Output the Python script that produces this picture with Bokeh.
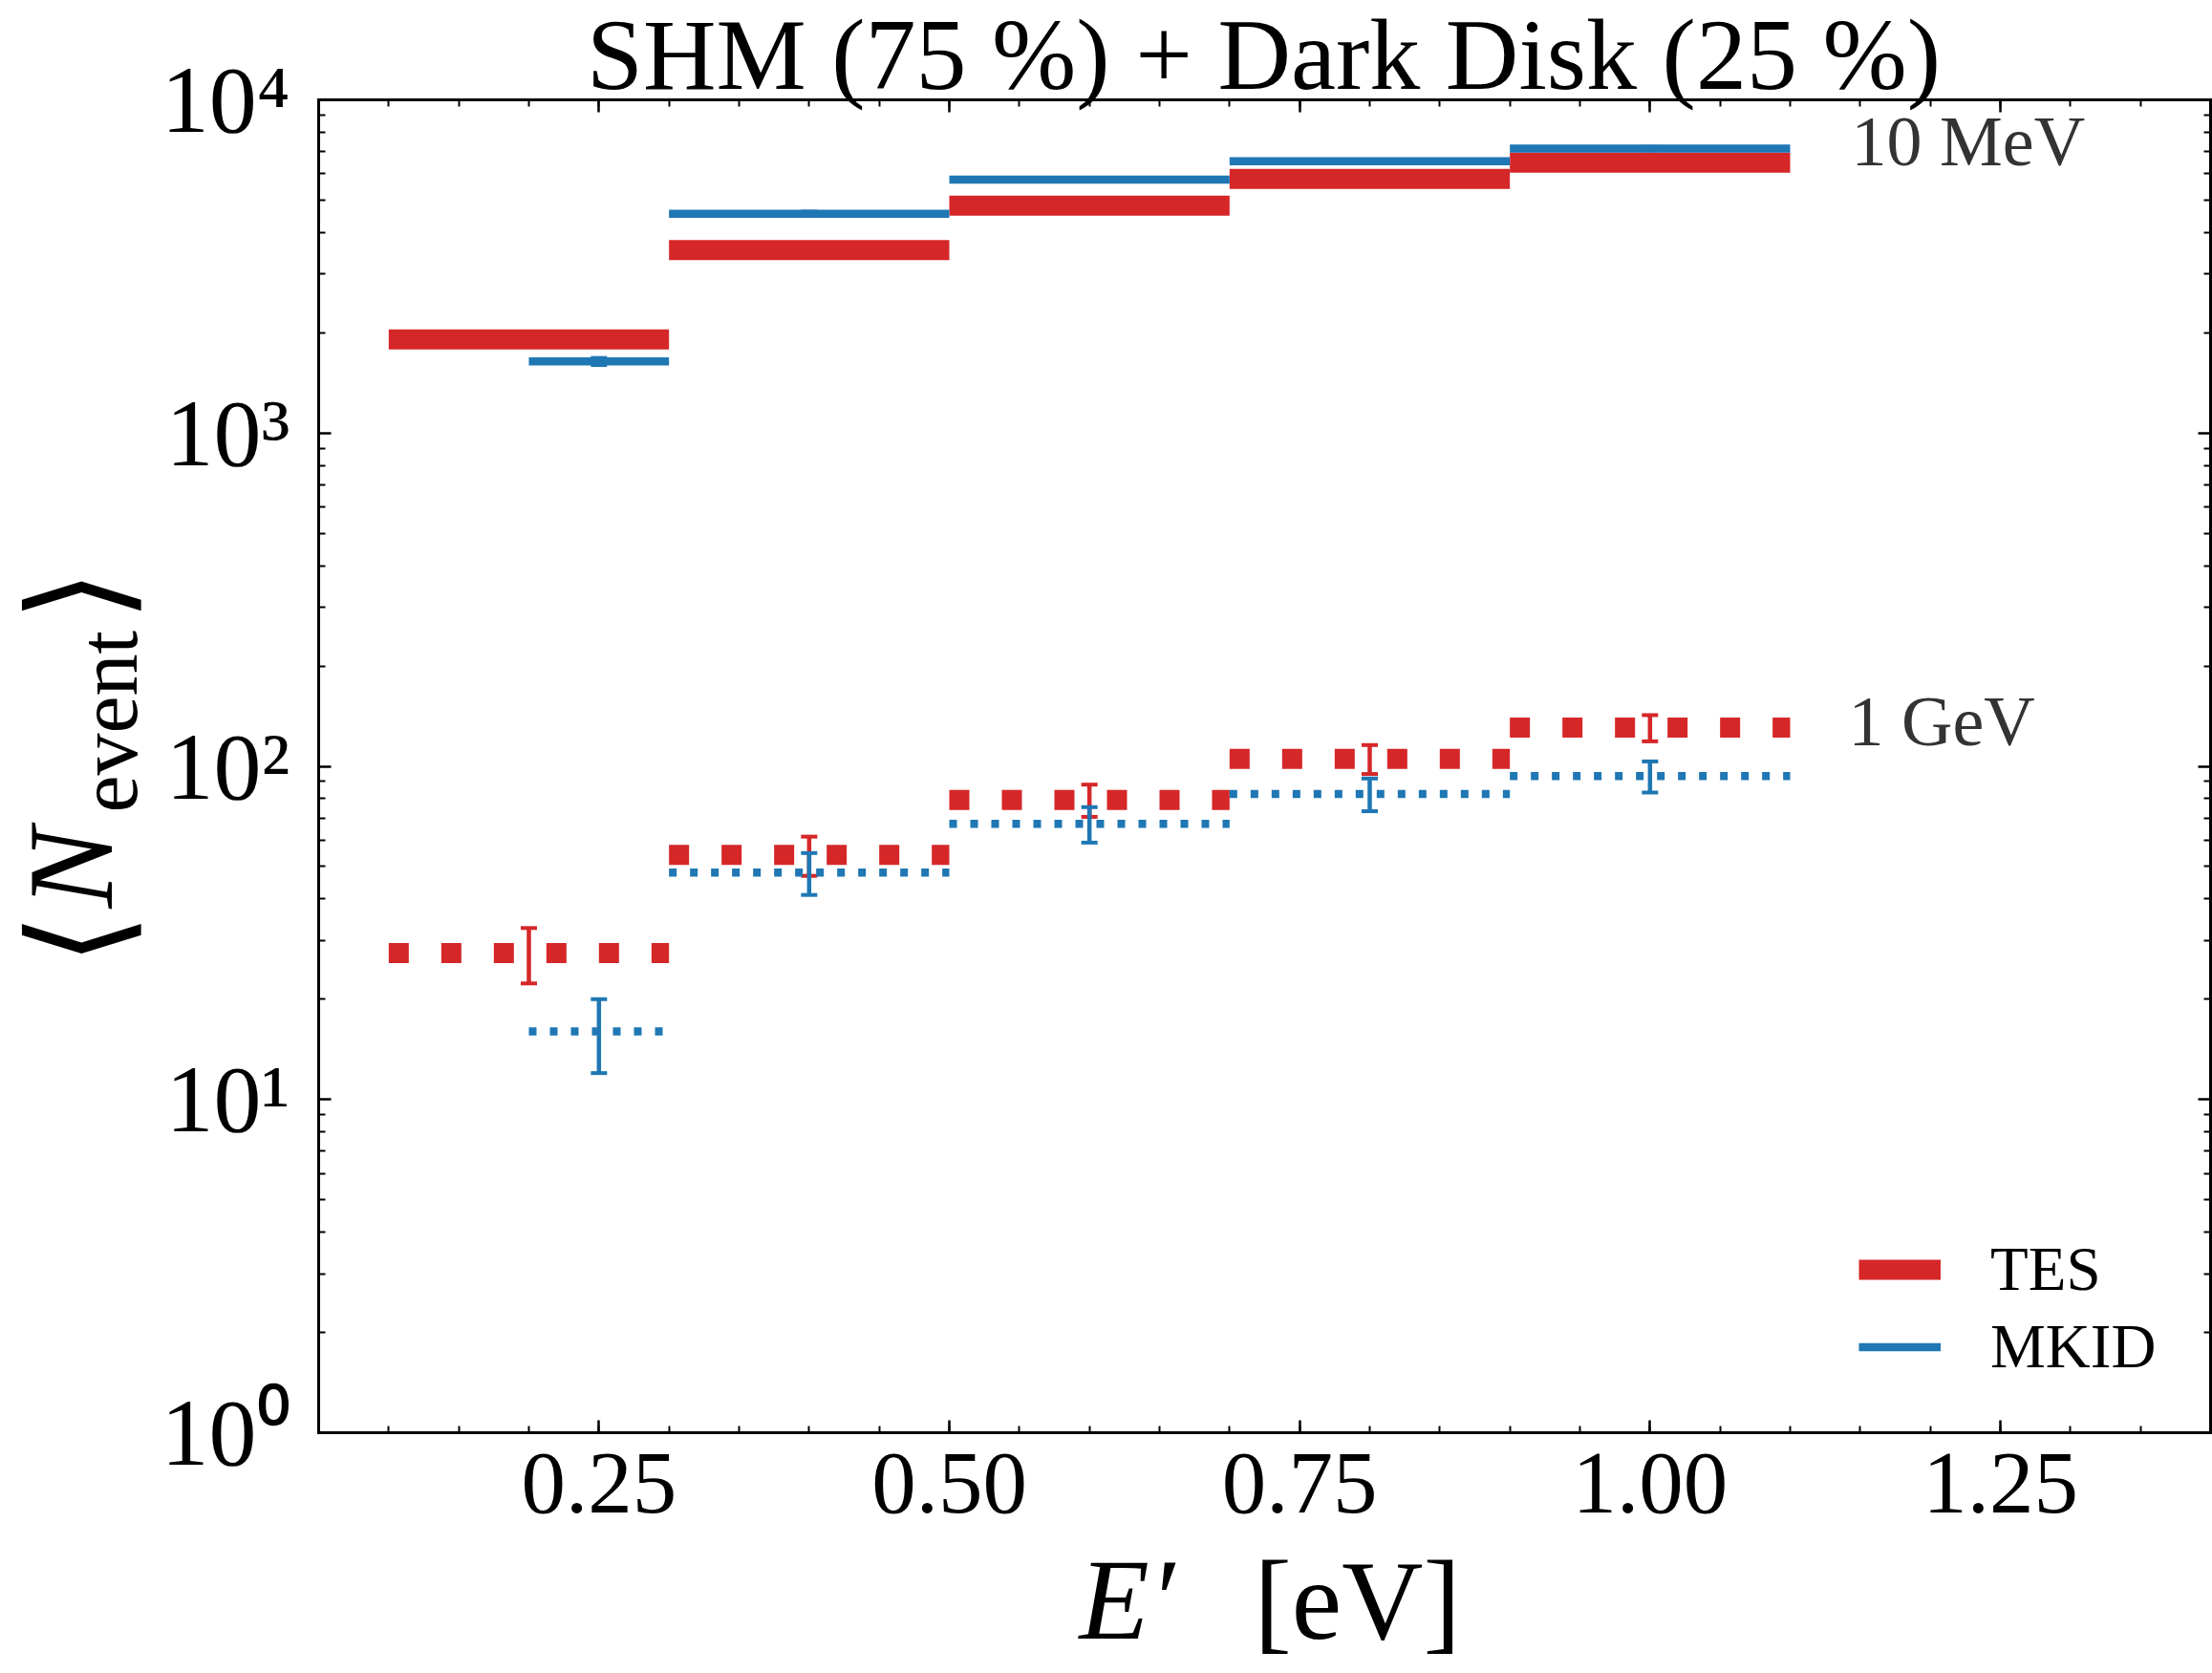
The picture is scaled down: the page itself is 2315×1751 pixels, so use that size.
import numpy as np
from bokeh.plotting import figure
from bokeh.models import (FixedTicker, LogAxis, LinearAxis, Label, Legend, LegendItem,
                          Whisker, TeeHead, ColumnDataSource, Range1d)
from bokeh.embed import file_html
from bokeh.resources import INLINE

# Energy bins [eV]
tes_lo = [0.1, 0.3, 0.5, 0.7, 0.9]
tes_hi = [0.3, 0.5, 0.7, 0.9, 1.1]
mkid_lo = [0.2, 0.3, 0.5, 0.7, 0.9]
mkid_hi = [0.3, 0.5, 0.7, 0.9, 1.1]

# Expected event counts, 10 MeV dark matter
tes_10mev = [1910, 3540, 4810, 5790, 6480]
tes_10mev_err = [44, 60, 69, 76, 80]
mkid_10mev = [1640, 4550, 5760, 6540, 7140]
mkid_10mev_err = [40, 67, 76, 81, 85]

# Expected event counts, 1 GeV dark matter
tes_1gev = [27.5, 54.2, 79.3, 105.3, 130.6]
tes_1gev_err = [5.2, 7.3, 8.8, 10.5, 11.8]
mkid_1gev = [16.0, 48.0, 67.2, 82.6, 93.4]
mkid_1gev_err = [4.0, 6.9, 8.2, 9.3, 10.0]

x_ticks = [0.25, 0.50, 0.75, 1.00, 1.25]
x_tick_labels = ["0.25", "0.50", "0.75", "1.00", "1.25"]
y_ticks = [1, 10, 100, 1000, 10000]
y_tick_labels = ["10\u2070", "10\u00b9", "10\u00b2", "10\u00b3", "10\u2074"]

RED = "#d62728"
BLUE = "#1f77b4"
FONT = "Liberation Serif"

# Canvas geometry: the axes box sits inside a full-canvas frame
W, H = 2315, 1751
XMIN, XMAX = 0.05, 1.40
YMIN, YMAX = 1.0, 1e4
BOX_L, BOX_R = 333, 2313
BOX_T, BOX_B = 104, 1499
px_per_x = (BOX_R - BOX_L) / (XMAX - XMIN)
px_per_dec = (BOX_B - BOX_T) / np.log10(YMAX / YMIN)
x_range = Range1d(XMIN - BOX_L / px_per_x, XMAX + (W - BOX_R) / px_per_x)
y_range = Range1d(YMIN * 10 ** (-(H - BOX_B) / px_per_dec), YMAX * 10 ** (BOX_T / px_per_dec))

p = figure(width=W, height=H, x_range=x_range, y_range=y_range,
           y_axis_type="log", x_axis_location=None, y_axis_location=None,
           min_border=0, output_backend="svg", toolbar_location=None)
p.outline_line_color = None
p.xgrid.visible = False
p.ygrid.visible = False
p.background_fill_color = "white"
p.border_fill_color = "white"

x_minor = [round(0.05 * k, 2) for k in range(1, 28)]
y_minor = [m * 10 ** e for e in range(4) for m in range(2, 10)]
xticker = FixedTicker(ticks=x_ticks, minor_ticks=x_minor)
yticker = FixedTicker(ticks=y_ticks, minor_ticks=y_minor)


def style_axis(ax, label_size=None, standoff=0):
    ax.axis_line_color = "black"
    ax.axis_line_width = 3
    ax.axis_line_cap = "square"
    ax.major_tick_in = 13
    ax.major_tick_out = 0
    ax.minor_tick_in = 7
    ax.minor_tick_out = 0
    ax.major_tick_line_width = 2.5
    ax.minor_tick_line_width = 2
    ax.major_tick_line_color = "black"
    ax.minor_tick_line_color = "black"
    ax.major_label_standoff = standoff
    if label_size:
        ax.major_label_text_font = FONT
        ax.major_label_text_font_size = label_size
        ax.major_label_text_color = "black"
    else:
        ax.major_label_text_font_size = "0px"


bottom_axis = LinearAxis(ticker=xticker, fixed_location=YMIN, bounds=(XMIN, XMAX),
                         major_label_overrides=dict(zip(x_ticks, x_tick_labels)))
style_axis(bottom_axis, "93px", 22)
p.add_layout(bottom_axis, "below")

left_axis = LogAxis(ticker=yticker, fixed_location=XMIN, bounds=(YMIN, YMAX),
                    major_label_overrides=dict(zip(y_ticks, y_tick_labels)))
style_axis(left_axis, "100px", 30)
p.add_layout(left_axis, "left")

top_axis = LinearAxis(ticker=xticker, fixed_location=YMAX, bounds=(XMIN, XMAX),
                      major_label_overrides={t: "" for t in x_ticks})
style_axis(top_axis)
p.add_layout(top_axis, "above")

right_axis = LogAxis(ticker=yticker, fixed_location=XMAX, bounds=(YMIN, YMAX),
                     major_label_overrides={t: "" for t in y_ticks})
style_axis(right_axis)
p.add_layout(right_axis, "right")


def draw_series(lo, hi, vals, errs, color, width, dash):
    src = ColumnDataSource(dict(
        x0=lo, x1=hi, y=vals,
        xc=[(a + b) / 2 for a, b in zip(lo, hi)],
        upper=[v + e for v, e in zip(vals, errs)],
        lower=[v - e for v, e in zip(vals, errs)],
    ))
    r = p.segment(x0="x0", y0="y", x1="x1", y1="y", source=src,
                  line_color=color, line_width=width, line_dash=dash, line_cap="butt")
    w = Whisker(base="xc", upper="upper", lower="lower", source=src, dimension="height",
                line_color=color, line_width=4.5,
                upper_head=TeeHead(size=17, line_color=color, line_width=4),
                lower_head=TeeHead(size=17, line_color=color, line_width=4))
    p.add_layout(w)
    return r


tes_a = draw_series(tes_lo, tes_hi, tes_10mev, tes_10mev_err, RED, 21, "solid")
tes_b = draw_series(tes_lo, tes_hi, tes_1gev, tes_1gev_err, RED, 21, "21 34")
mkid_a = draw_series(mkid_lo, mkid_hi, mkid_10mev, mkid_10mev_err, BLUE, 8.5, "solid")
mkid_b = draw_series(mkid_lo, mkid_hi, mkid_1gev, mkid_1gev_err, BLUE, 8.5, "8 14")

legend = Legend(items=[LegendItem(label="TES", renderers=[tes_a]),
                       LegendItem(label="MKID", renderers=[mkid_a])],
                location=(1945, H - 1450), glyph_width=86, glyph_height=81,
                label_height=81, label_standoff=52, spacing=0, padding=0, margin=0,
                border_line_color=None, background_fill_alpha=0,
                label_text_font=FONT, label_text_font_size="65px",
                label_text_color="black")
p.add_layout(legend)

BASE_ADJ = 0.365  # baseline correction, in em


def put(text, cx, cy, size, align="left", style="normal", color="black",
        vertical=False, font=FONT):
    """Place text with its baseline start at canvas pixel (cx, cy)."""
    if vertical:
        x, y, angle = cx - BASE_ADJ * size, H - cy, np.pi / 2
    else:
        x, y, angle = cx, H - cy + BASE_ADJ * size, 0.0
    p.add_layout(Label(x=x, y=y, x_units="screen", y_units="screen", text=text,
                       text_font=font, text_font_size=f"{size}px", text_font_style=style,
                       text_color=color, text_align=align, text_baseline="alphabetic",
                       angle=angle))


# Mass annotations
put("10 MeV", 1937, 175, 74, color="#333333")
put("1 GeV", 1934, 782, 74, color="#333333")

# Title
put("SHM (75 %) + Dark Disk (25 %)", 1322, 96, 106, align="center")

# x-axis label
put("E\u2032", 1129, 1718, 120, style="italic")
put("[eV]", 1312, 1718, 118)

# y-axis label (reads bottom to top)
put("\u27e8", 131, 1010, 140, vertical=True, font="DejaVu Sans")
put("N", 120, 950, 126, style="italic", vertical=True)
put("event", 145, 850, 88, vertical=True)
put("\u27e9", 131, 650, 140, vertical=True, font="DejaVu Sans")

open("out.html", "w").write(file_html(p, INLINE))
